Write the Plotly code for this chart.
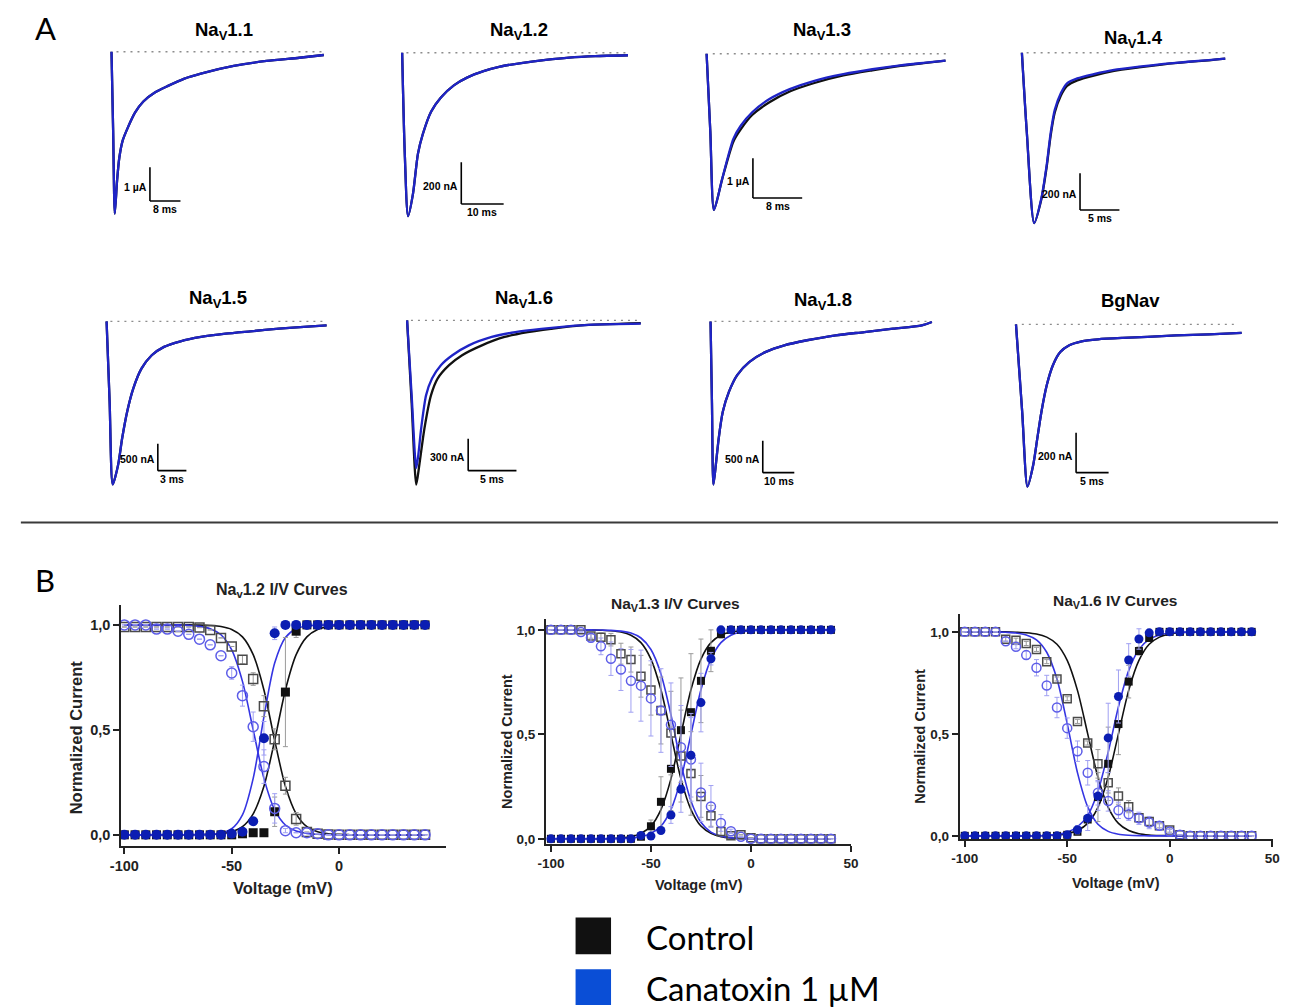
import plotly.graph_objects as go

W, H = 1289, 1008
FONT = "Liberation Sans, Arial, sans-serif"
FONT_LEG = "Lato, Open Sans, sans-serif"

# ---------------- Panel A: current traces (time in ms, current in nA) ----------------
nav11_t = [0, 0.43, 0.86, 1.46, 2.06, 2.92, 4.3, 6.19, 8.34, 11.35, 14.8, 19.1, 23.4, 32.0, 40.6, 49.2, 55.6]
nav11_tox = [0, -2345, -4785, -3804, -3120, -2627, -2235, -1794, -1469, -1206, -1010, -794, -646, -421, -273, -177, -96]
nav11_ctrl = [0, -2345, -4785, -3804, -3120, -2627, -2235, -1794, -1469, -1206, -1010, -794, -646, -421, -273, -177, -96]

nav12_t = [0, 0.62, 1.4, 2.56, 3.72, 4.88, 6.82, 9.15, 12.2, 15.3, 19.2, 23.1, 28.5, 33.9, 39.4, 45.6, 53.3]
nav12_tox = [0, -485, -782, -674, -484, -389, -282, -214, -156, -119, -88, -66, -48, -34, -23, -16, -12]
nav12_ctrl = [0, -485, -782, -674, -484, -389, -282, -214, -156, -119, -88, -66, -48, -34, -23, -16, -12]

nav13_t = [0, 0.6, 1.2, 2.53, 4.34, 5.54, 7.4, 10.2, 13.5, 17.5, 22.2, 26.9, 31.5, 35.6, 38.8]
nav13_tox = [0, -1950, -3925, -3140, -2140, -1810, -1470, -1140, -890, -680, -515, -390, -290, -225, -175]
nav13_ctrl = [0, -1950, -3925, -3150, -2210, -1900, -1540, -1220, -950, -735, -545, -415, -302, -230, -175]

nav14_t = [0, 0.63, 1.56, 2.45, 3.13, 3.65, 4.17, 4.95, 5.73, 7.03, 9.12, 11.7, 14.85, 18.0, 21.1, 23.7, 25.8]
nav14_tox = [0, -436, -925, -795, -615, -436, -310, -219, -166, -139, -116, -93, -76, -61, -49, -40, -32]
nav14_ctrl = [0, -436, -925, -800, -625, -450, -325, -232, -180, -150, -124, -99, -80, -63, -50, -41, -32]

nav15_t = [0, 0.32, 0.65, 1.21, 1.64, 2.16, 2.8, 3.66, 4.74, 6.03, 7.76, 9.91, 12.5, 15.1, 18.1, 21.1, 23.1]
nav15_tox = [0, -1500, -3035, -2670, -2170, -1680, -1250, -880, -630, -474, -370, -290, -229, -185, -136, -99, -74]
nav15_ctrl = [0, -1500, -3035, -2670, -2170, -1680, -1250, -880, -630, -474, -370, -290, -229, -185, -136, -99, -74]

nav16_t_tox = [0, 0.47, 0.95, 1.2, 1.46, 1.97, 2.58, 3.5, 4.69, 6.4, 8.77, 11.2, 13.9, 16.6, 19.3, 24.2]
nav16_tox = [0, -700, -1392, -1237, -1016, -704, -548, -422, -328, -235, -156, -110, -79, -56, -40, -31]
nav16_t_ctrl = [0, 0.47, 0.95, 1.27, 1.8, 2.48, 3.16, 4.35, 5.7, 7.75, 10.1, 12.5, 14.9, 18.0, 24.2]
nav16_ctrl = [0, -775, -1547, -1360, -1016, -704, -548, -422, -328, -235, -156, -110, -79, -46, -25]

nav18_t = [0, 0.45, 0.91, 1.69, 2.6, 3.9, 5.85, 8.45, 12.35, 17.55, 23.4, 30.6, 39.7, 48.8, 57.9, 67.0, 70.2]
nav18_tox = [0, -1280, -2560, -2246, -1832, -1416, -1103, -843, -635, -478, -375, -296, -218, -167, -114, -62, -10]
nav18_ctrl = [0, -1280, -2560, -2246, -1832, -1416, -1103, -843, -635, -478, -375, -296, -218, -167, -114, -62, -10]

bgnav_t = [0, 0.95, 1.77, 2.65, 3.28, 3.91, 4.73, 5.68, 6.81, 8.2, 10.1, 12.6, 16.4, 20.2, 24.6, 29.7, 34.7]
bgnav_tox = [0, -437, -815, -707, -573, -440, -306, -205, -139, -105, -85, -75, -68, -63, -55, -50, -43]
bgnav_ctrl = [0, -437, -815, -707, -573, -440, -306, -205, -139, -105, -85, -75, -68, -63, -55, -50, -43]

a_titles = ["Na<sub>V</sub>1.1", "Na<sub>V</sub>1.2", "Na<sub>V</sub>1.3", "Na<sub>V</sub>1.4",
            "Na<sub>V</sub>1.5", "Na<sub>V</sub>1.6", "Na<sub>V</sub>1.8", "BgNav"]
a_time_ctrl = [nav11_t, nav12_t, nav13_t, nav14_t, nav15_t, nav16_t_ctrl, nav18_t, bgnav_t]
a_time_tox = [nav11_t, nav12_t, nav13_t, nav14_t, nav15_t, nav16_t_tox, nav18_t, bgnav_t]
a_ctrl = [nav11_ctrl, nav12_ctrl, nav13_ctrl, nav14_ctrl, nav15_ctrl, nav16_ctrl, nav18_ctrl, bgnav_ctrl]
a_tox = [nav11_tox, nav12_tox, nav13_tox, nav14_tox, nav15_tox, nav16_tox, nav18_tox, bgnav_tox]
baseline_t = [[1.3, 55.6], [1.0, 53.3], [1.0, 38.9], [0.6, 25.9], [0.4, 23.1], [0.4, 24.2], [1.25, 69.7], [0.9, 34.1]]
baseline_i = [0, 0]
scale_ms = [8, 10, 8, 5, 3, 5, 10, 5]
scale_na = [1000, 200, 1000, 200, 500, 300, 500, 200]
scale_lbl_i = ["1 µA", "200 nA", "1 µA", "200 nA", "500 nA", "300 nA", "500 nA", "200 nA"]
scale_lbl_t = ["8 ms", "10 ms", "8 ms", "5 ms", "3 ms", "5 ms", "10 ms", "5 ms"]

# ---------------- Panel B: normalized I/V data ----------------
volt = [-100, -95, -90, -85, -80, -75, -70, -65, -60, -55, -50, -45, -40, -35, -30,
        -25, -20, -15, -10, -5, 0, 5, 10, 15, 20, 25, 30, 35, 40]
x_ticks = [-100, -50, 0, 50]
x_ticktext = ["-100", "-50", "0", "50"]
y_ticks = [0, 0.5, 1]
y_ticktext = ["0,0", "0,5", "1,0"]
b_titles = ["Na<sub>v</sub>1.2 I/V Curves", "Na<sub>V</sub>1.3 I/V Curves", "Na<sub>V</sub>1.6 IV Curves"]

# Nav1.2
nav12_ctrl_act = [0,0,0,0,0,0,0,0,0,0,0,0.005,0.01,0.01,0.11,0.68,0.97,1,1,1,1,1,1,1,1,1,1,1,1]
nav12_ctrl_act_err = [0,0,0,0,0,0,0,0,0,0,0,0,0,0,0.07,0.26,0.03,0,0,0,0,0,0,0,0,0,0,0,0]
nav12_tox_act = [0,0,0,0,0,0,0,0,0,0,0.005,0.015,0.065,0.46,0.96,1,1,1,1,1,1,1,1,1,1,1,1,1,1]
nav12_tox_act_err = [0,0,0,0,0,0,0,0,0,0,0,0,0.01,0.08,0.03,0,0,0,0,0,0,0,0,0,0,0,0,0,0]
nav12_ctrl_inact = [0.99,0.99,0.99,0.99,0.99,0.99,0.99,0.987,0.976,0.938,0.897,0.834,0.742,0.613,0.455,0.234,0.076,0.013,0.005,0.002,0,0,0,0,0,0,0,0,0]
nav12_ctrl_inact_err = [0,0,0,0,0,0,0,0,0,0,0,0.02,0.03,0.05,0.05,0.04,0.03,0,0,0,0,0,0,0,0,0,0,0,0]
nav12_tox_inact = [1,1,1,0.98,0.98,0.97,0.955,0.932,0.905,0.853,0.771,0.663,0.515,0.325,0.126,0.02,0.01,0.01,0.005,0,0,0,0,0,0,0,0,0,0]
nav12_tox_inact_err = [0,0,0,0,0,0,0,0,0,0,0.03,0.05,0.07,0.08,0.07,0.01,0,0,0,0,0,0,0,0,0,0,0,0,0]
fit12_ctrl_act = [0,0,0,0,0,0,0,0.0007,0.002,0.0055,0.015,0.039,0.10,0.231,0.45,0.69,0.858,0.943,0.978,0.992,0.997,0.999,1,1,1,1,1,1,1]
fit12_tox_act = [0,0,0,0,0,0,0.0002,0.0007,0.0025,0.0086,0.029,0.095,0.269,0.562,0.818,0.94,0.982,0.995,0.9985,1,1,1,1,1,1,1,1,1,1]
fit12_ctrl_inact = [1,1,1,1,1,1,1,0.999,0.997,0.992,0.978,0.943,0.858,0.69,0.45,0.231,0.10,0.039,0.015,0.0055,0.002,0.0007,0,0,0,0,0,0,0]
fit12_tox_inact = [1,1,1,1,1,1,0.9975,0.993,0.982,0.953,0.881,0.731,0.5,0.269,0.119,0.047,0.018,0.007,0.0025,0.001,0,0,0,0,0,0,0,0,0]

# Nav1.3
nav13_ctrl_act = [0,0,0,0,0,0,0,0,0,0.01,0.06,0.177,0.335,0.52,0.606,0.756,0.90,0.98,1,1,1,1,1,1,1,1,1,1,1]
nav13_ctrl_act_err = [0,0,0,0,0,0,0,0,0,0,0.03,0.12,0.2,0.25,0.28,0.2,0.1,0.02,0,0,0,0,0,0,0,0,0,0,0]
nav13_tox_act = [0,0,0,0,0,0,0,0,0,0.016,0.013,0.04,0.114,0.237,0.40,0.652,0.862,1,1,1,1,1,1,1,1,1,1,1,1]
nav13_tox_act_err = [0,0,0,0,0,0,0,0,0,0,0,0.01,0.04,0.11,0.2,0.14,0.03,0,0,0,0,0,0,0,0,0,0,0,0]
nav13_ctrl_inact = [1,1,1,1,0.97,0.965,0.953,0.886,0.858,0.778,0.712,0.614,0.506,0.396,0.313,0.203,0.11,0.035,0.015,0.019,0.005,0,0,0,0,0,0,0,0]
nav13_ctrl_inact_err = [0,0,0,0,0.01,0.02,0.03,0.05,0.06,0.1,0.12,0.16,0.2,0.22,0.2,0.1,0.05,0.02,0,0,0,0,0,0,0,0,0,0,0]
nav13_tox_inact = [1,1,1,0.99,0.962,0.921,0.862,0.81,0.756,0.733,0.672,0.614,0.546,0.438,0.38,0.222,0.155,0.076,0.036,0.01,0,0,0,0,0,0,0,0,0]
nav13_tox_inact_err = [0,0,0,0,0.02,0.04,0.08,0.1,0.15,0.17,0.18,0.2,0.2,0.2,0.2,0.14,0.1,0.04,0.01,0,0,0,0,0,0,0,0,0,0]
fit13_ctrl_act = [0,0,0,0,0,0,0.0017,0.0043,0.0105,0.026,0.061,0.14,0.287,0.5,0.713,0.86,0.939,0.974,0.9895,0.9957,0.998,0.999,1,1,1,1,1,1,1]
fit13_tox_act = [0,0,0,0,0,0,0,0.0017,0.0043,0.0105,0.026,0.061,0.14,0.287,0.5,0.713,0.86,0.939,0.974,0.9895,0.9957,0.998,0.999,1,1,1,1,1,1]
fit13_ctrl_inact = [1,1,1,1,1,0.9983,0.9957,0.9895,0.974,0.939,0.86,0.713,0.5,0.287,0.14,0.061,0.026,0.0105,0.0043,0.0017,0.0007,0,0,0,0,0,0,0,0]
fit13_tox_inact = [1,1,1,1,1,0.999,0.9976,0.9939,0.9845,0.961,0.906,0.789,0.594,0.361,0.181,0.079,0.032,0.013,0.005,0.002,0.001,0,0,0,0,0,0,0,0]

# Nav1.6
nav16_ctrl_act = [0,0,0,0,0,0,0,0,0,0,0.005,0.02,0.08,0.19,0.353,0.548,0.756,0.906,0.97,1,1,1,1,1,1,1,1,1,1]
nav16_ctrl_act_err = [0,0,0,0,0,0,0,0,0,0,0,0,0,0.12,0.18,0.15,0.08,0.02,0,0,0,0,0,0,0,0,0,0,0]
nav16_tox_act = [0,0,0,0,0,0,0,0,0,0,0.005,0.03,0.086,0.195,0.48,0.683,0.862,0.965,0.995,1,1,1,1,1,1,1,1,1,1]
nav16_tox_act_err = [0,0,0,0,0,0,0,0,0,0,0,0.02,0.06,0.07,0.17,0.13,0.08,0.05,0,0,0,0,0,0,0,0,0,0,0]
nav16_ctrl_inact = [1,1,1,1,0.964,0.959,0.943,0.914,0.854,0.769,0.672,0.561,0.455,0.353,0.26,0.195,0.143,0.089,0.07,0.049,0.028,0.005,0,0,0,0,0,0,0]
nav16_ctrl_inact_err = [0,0,0,0,0.01,0.01,0.01,0.01,0.01,0.01,0.01,0.01,0.01,0.07,0.05,0.04,0.03,0.02,0.02,0.01,0.01,0,0,0,0,0,0,0,0]
nav16_tox_inact = [1,1,1,1,0.954,0.927,0.886,0.824,0.737,0.629,0.528,0.415,0.309,0.211,0.171,0.125,0.106,0.086,0.065,0.049,0.021,0.005,0,0,0,0,0,0,0]
nav16_tox_inact_err = [0,0,0,0,0,0.01,0.02,0.04,0.05,0.05,0.05,0.05,0.06,0.06,0.05,0.04,0.03,0.03,0.03,0.02,0.01,0,0,0,0,0,0,0,0]
fit16_ctrl_act = [0,0,0,0,0,0,0,0,0.0017,0.0043,0.0105,0.026,0.061,0.14,0.287,0.5,0.713,0.86,0.939,0.974,0.9895,0.9957,0.998,0.999,1,1,1,1,1]
fit16_tox_act = [0,0,0,0,0,0,0,0,0.003,0.0073,0.018,0.044,0.10,0.219,0.41,0.633,0.81,0.914,0.963,0.985,0.994,0.998,0.999,1,1,1,1,1,1]
fit16_ctrl_inact = [1,1,1,1,1,0.9983,0.9957,0.9895,0.974,0.939,0.86,0.713,0.5,0.287,0.14,0.061,0.026,0.0105,0.0043,0.0017,0.0007,0,0,0,0,0,0,0,0]
fit16_tox_inact = [1,1,1,1,0.998,0.9945,0.985,0.961,0.90,0.769,0.55,0.31,0.142,0.057,0.022,0.008,0.003,0.001,0,0,0,0,0,0,0,0,0,0,0]

b_data = [
    dict(ca=nav12_ctrl_act, cae=nav12_ctrl_act_err, ta=nav12_tox_act, tae=nav12_tox_act_err,
         ci=nav12_ctrl_inact, cie=nav12_ctrl_inact_err, ti=nav12_tox_inact, tie=nav12_tox_inact_err,
         fca=fit12_ctrl_act, fta=fit12_tox_act, fci=fit12_ctrl_inact, fti=fit12_tox_inact),
    dict(ca=nav13_ctrl_act, cae=nav13_ctrl_act_err, ta=nav13_tox_act, tae=nav13_tox_act_err,
         ci=nav13_ctrl_inact, cie=nav13_ctrl_inact_err, ti=nav13_tox_inact, tie=nav13_tox_inact_err,
         fca=fit13_ctrl_act, fta=fit13_tox_act, fci=fit13_ctrl_inact, fti=fit13_tox_inact),
    dict(ca=nav16_ctrl_act, cae=nav16_ctrl_act_err, ta=nav16_tox_act, tae=nav16_tox_act_err,
         ci=nav16_ctrl_inact, cie=nav16_ctrl_inact_err, ti=nav16_tox_inact, tie=nav16_tox_inact_err,
         fca=fit16_ctrl_act, fta=fit16_tox_act, fci=fit16_ctrl_inact, fti=fit16_tox_inact),
]

legend_labels = ["Control", "Canatoxin 1 µM"]

# ---------------- colours ----------------
C_BLACK = "#111111"
C_TRACE_BLUE = "#1f24c6"
C_FIT_BLUE = "#3535e2"
C_FILL_BLUE = "#0b1db2"
C_OPEN_BLUE = "#5d5de8"
C_OPEN_BLACK = "#4a4a4a"
C_ERR_GRAY = "#9a9a9a"
C_ERR_BLUE = "#a0a0f2"
C_LEG_BLUE = "#0a4ed6"

# ---------------- layout anchors (pixels) ----------------
a_layout = [
    dict(t0=101, base=52, bar=(140, 202), bw=31, bh=34, title=(215, 31)),
    dict(t0=396, base=53, bar=(456, 205), bw=43, bh=42, title=(515, 31)),
    dict(t0=705, base=54, bar=(752, 199), bw=50, bh=40, title=(822, 31)),
    dict(t0=1025, base=53, bar=(1084, 211), bw=40, bh=37, title=(1138, 39)),
    dict(t0=96, base=323, bar=(148, 473), bw=29, bh=27, title=(209, 300)),
    dict(t0=401, base=322, bar=(463, 473), bw=49, bh=32, title=(520, 300)),
    dict(t0=709, base=323, bar=(762, 475), bw=32, bh=32, title=(823, 302)),
    dict(t0=1019, base=326, bar=(1080, 475), bw=33, bh=40, title=(1135, 302)),
]
b_layout = [
    dict(xm100=114, x0=332, y1=628, y0=839, left=111, right=440, bottom=850, top=608,
         title=(274, 593), ylab=(65, 741), xlab=(275, 892), tick=14.5, lab=16.5, ttl=16, ms=10),
    dict(xm100=547, x0=750, y1=633, y0=843, left=542, right=852, bottom=848, top=622,
         title=(673, 608), ylab=(503, 745), xlab=(697, 889), tick=13.5, lab=14.5, ttl=15.5, ms=9),
    dict(xm100=967, x0=1175, y1=635, y0=840, left=962, right=1280, bottom=843, top=617,
         title=(1120, 605), ylab=(922, 740), xlab=(1121, 887), tick=13.5, lab=14.5, ttl=15.5, ms=9),
]


def px(xp):
    return xp / W


def py(yp):
    return 1 - yp / H


def refs(i):
    return ("x" if i == 1 else f"x{i}", "y" if i == 1 else f"y{i}")


def axkey(letter, i):
    return f"{letter}axis" if i == 1 else f"{letter}axis{i}"


fig = go.Figure()
layout_axes = {}
shapes = []
annotations = []

# ---------------- Panel A ----------------
for k in range(8):
    i = k + 1
    xr, yr = refs(i)
    L = a_layout[k]
    ms_px = scale_ms[k] / L["bw"]
    na_px = scale_na[k] / L["bh"]
    tmax = max(max(a_time_ctrl[k]), max(a_time_tox[k]))
    imin = min(min(a_ctrl[k]), min(a_tox[k]))
    pad = 8
    x0p = L["t0"] - pad
    x1p = L["t0"] + tmax / ms_px + pad
    ytp = L["base"] - pad
    ybp = L["base"] + (-imin) / na_px + pad
    layout_axes[axkey("x", i)] = dict(domain=[px(x0p), px(x1p)],
                                      range=[(x0p - L["t0"]) * ms_px, (x1p - L["t0"]) * ms_px],
                                      visible=False, anchor=yr, fixedrange=True)
    layout_axes[axkey("y", i)] = dict(domain=[py(ybp), py(ytp)],
                                      range=[-(ybp - L["base"]) * na_px, (L["base"] - ytp) * na_px],
                                      visible=False, anchor=xr, fixedrange=True)
    fig.add_trace(go.Scatter(x=baseline_t[k], y=baseline_i, mode="lines", xaxis=xr, yaxis=yr,
                             line=dict(color="#8c8c8c", width=1.3, dash="2px,5px"),
                             showlegend=False, hoverinfo="skip"))
    fig.add_trace(go.Scatter(x=a_time_ctrl[k], y=a_ctrl[k], mode="lines", xaxis=xr, yaxis=yr, name="Control",
                             line=dict(color=C_BLACK, width=2.3, shape="spline", smoothing=0.7),
                             showlegend=False))
    fig.add_trace(go.Scatter(x=a_time_tox[k], y=a_tox[k], mode="lines", xaxis=xr, yaxis=yr, name="Canatoxin 1 µM",
                             line=dict(color=C_TRACE_BLUE, width=2.3, shape="spline", smoothing=0.7),
                             showlegend=False))
    tc = (L["bar"][0] - L["t0"]) * ms_px
    ic = -(L["bar"][1] - L["base"]) * na_px
    shapes.append(dict(type="line", xref=xr, yref=yr, x0=tc, x1=tc, y0=ic, y1=ic + scale_na[k],
                       line=dict(color="black", width=1.6)))
    shapes.append(dict(type="line", xref=xr, yref=yr, x0=tc, x1=tc + scale_ms[k], y0=ic, y1=ic,
                       line=dict(color="black", width=1.6)))
    annotations.append(dict(xref=xr, yref=yr, x=tc, y=ic + scale_na[k] * 0.42, text=f"<b>{scale_lbl_i[k]}</b>",
                            showarrow=False, xanchor="right", yanchor="middle", xshift=-1,
                            font=dict(family=FONT, size=10.5, color="black")))
    annotations.append(dict(xref=xr, yref=yr, x=tc + scale_ms[k] / 2, y=ic, text=f"<b>{scale_lbl_t[k]}</b>",
                            showarrow=False, xanchor="center", yanchor="top", yshift=0,
                            font=dict(family=FONT, size=10.5, color="black")))
    annotations.append(dict(xref="paper", yref="paper", x=px(L["title"][0]), y=py(L["title"][1]),
                            text=f"<b>{a_titles[k]}</b>", showarrow=False, xanchor="center", yanchor="middle",
                            font=dict(family=FONT, size=18.5, color="black")))

# ---------------- Panel B ----------------
for j in range(3):
    i = 9 + j
    xr, yr = refs(i)
    L = b_layout[j]
    D = b_data[j]
    ppm = (L["x0"] - L["xm100"]) / 100.0
    ppu = L["y0"] - L["y1"]
    xrange = [-100 - (L["xm100"] - L["left"]) / ppm, (L["right"] - L["x0"]) / ppm]
    yrange = [(L["y0"] - L["bottom"]) / ppu, (L["y0"] - L["top"]) / ppu]
    common = dict(showline=True, linewidth=2.2, linecolor="#222", ticks="outside", ticklen=6,
                  tickwidth=2, tickcolor="#222", showgrid=False, zeroline=False, fixedrange=True,
                  tickfont=dict(family=FONT, size=L["tick"], color="#222"))
    layout_axes[axkey("x", i)] = dict(domain=[px(L["left"]), px(L["right"])], range=xrange, anchor=yr,
                                      tickvals=x_ticks, ticktext=[f"<b>{s}</b>" for s in x_ticktext], **common)
    layout_axes[axkey("y", i)] = dict(domain=[py(L["bottom"]), py(L["top"])], range=yrange, anchor=xr,
                                      tickvals=y_ticks, ticktext=[f"<b>{s}</b>" for s in y_ticktext], **common)
    for ys, col in [(D["fci"], C_BLACK), (D["fca"], C_BLACK), (D["fti"], C_FIT_BLUE), (D["fta"], C_FIT_BLUE)]:
        fig.add_trace(go.Scatter(x=volt, y=ys, mode="lines", xaxis=xr, yaxis=yr, showlegend=False,
                                 line=dict(color=col, width=1.6, shape="spline", smoothing=0.8),
                                 hoverinfo="skip"))
    ms = L["ms"]
    series = [
        (D["ci"], D["cie"], dict(symbol="square-open", color=C_OPEN_BLACK, size=ms - 1,
                                 line=dict(color=C_OPEN_BLACK, width=1.5)), C_ERR_GRAY, "Control"),
        (D["ca"], D["cae"], dict(symbol="square", color=C_BLACK, size=ms - 1), C_ERR_GRAY, "Control"),
        (D["ti"], D["tie"], dict(symbol="circle-open", color=C_OPEN_BLUE, size=ms,
                                 line=dict(color=C_OPEN_BLUE, width=1.5)), C_ERR_BLUE, "Canatoxin 1 µM"),
        (D["ta"], D["tae"], dict(symbol="circle", color=C_FILL_BLUE, size=ms), C_ERR_BLUE, "Canatoxin 1 µM"),
    ]
    for ys, err, mk, ecol, nm in series:
        fig.add_trace(go.Scatter(x=volt, y=ys, mode="markers", xaxis=xr, yaxis=yr, showlegend=False,
                                 name=nm, marker=mk, cliponaxis=False,
                                 error_y=dict(type="data", array=err, visible=True, color=ecol,
                                              thickness=1, width=2.5)))
    annotations.append(dict(xref="paper", yref="paper", x=px(L["title"][0]), y=py(L["title"][1]),
                            text=f"<b>{b_titles[j]}</b>", showarrow=False, xanchor="center", yanchor="middle",
                            font=dict(family=FONT, size=L["ttl"], color="#222")))
    annotations.append(dict(xref="paper", yref="paper", x=px(L["xlab"][0]), y=py(L["xlab"][1]),
                            text="<b>Voltage (mV)</b>", showarrow=False, xanchor="center", yanchor="middle",
                            font=dict(family=FONT, size=L["lab"], color="#222")))
    annotations.append(dict(xref="paper", yref="paper", x=px(L["ylab"][0]), y=py(L["ylab"][1]),
                            text="<b>Normalized Current</b>", showarrow=False, textangle=-90,
                            xanchor="center", yanchor="middle",
                            font=dict(family=FONT, size=L["lab"], color="#222")))

# ---------------- panel letters, separator, legend ----------------
annotations.append(dict(xref="paper", yref="paper", x=px(34), y=py(28), text="A", showarrow=False,
                        xanchor="center", yanchor="middle", font=dict(family=FONT_LEG, size=31, color="black")))
annotations.append(dict(xref="paper", yref="paper", x=px(33), y=py(583), text="B", showarrow=False,
                        xanchor="center", yanchor="middle", font=dict(family=FONT_LEG, size=31, color="black")))
shapes.append(dict(type="line", xref="paper", yref="paper", x0=px(9), x1=px(1285), y0=py(525), y1=py(525),
                   line=dict(color="#3a3a3a", width=2)))

leg_boxes = [(922, 959, C_BLACK), (974, 1010, C_LEG_BLUE)]
for (yt, yb, col), lbl in zip(leg_boxes, legend_labels):
    shapes.append(dict(type="rect", xref="paper", yref="paper", x0=px(572), x1=px(608), y0=py(yb), y1=py(yt),
                       fillcolor=col, line=dict(width=0)))
    annotations.append(dict(xref="paper", yref="paper", x=px(641), y=py((yt + yb) / 2 + 1), text=lbl,
                            showarrow=False, xanchor="left", yanchor="middle",
                            font=dict(family=FONT_LEG, size=33, color="black")))

fig.update_layout(width=W, height=H, autosize=False, margin=dict(l=0, r=0, t=0, b=0),
                  paper_bgcolor="white", plot_bgcolor="white", showlegend=False,
                  shapes=shapes, annotations=annotations, **layout_axes)

fig.write_html("out.html", config={"displayModeBar": False},
               post_script="document.body.style.margin='0px';document.body.style.overflow='hidden';")
